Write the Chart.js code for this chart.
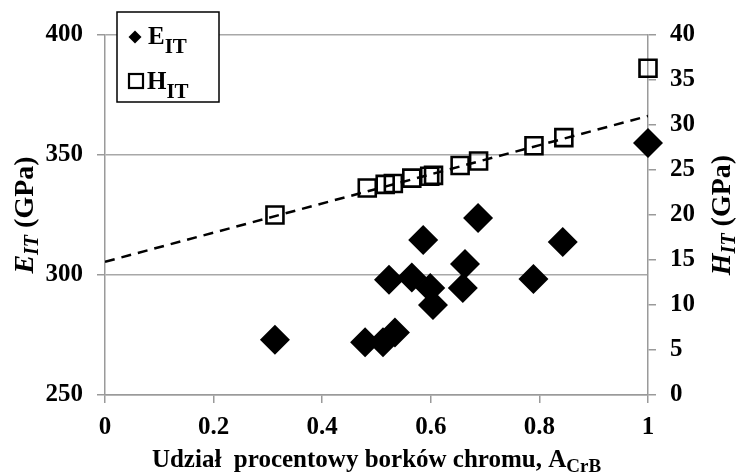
<!DOCTYPE html>
<html>
<head>
<meta charset="utf-8">
<script src="https://cdn.jsdelivr.net/npm/chart.js@4/dist/chart.umd.min.js"></script>
<style>
  html, body { margin: 0; padding: 0; background: #fff; }
  #wrap { width: 737px; height: 475px; }
</style>
</head>
<body>
<div id="wrap"><canvas id="chart"></canvas></div>
<script>
'use strict';

/* ── Data ─────────────────────────────────────────────────────────────────── */
// Young's modulus E_IT vs chromium boride share
const eShare   = [0.313, 0.479, 0.512, 0.534, 0.523, 0.565, 0.586, 0.599, 0.604, 0.659, 0.663, 0.687, 0.789, 0.843, 1.0];
const eModulus = [273, 272, 272, 276, 298, 299, 314.6, 294.6, 287.5, 294.6, 304.6, 323.8, 298.3, 313.7, 355];

// Hardness H_IT vs chromium boride share
const hShare    = [0.313, 0.483, 0.516, 0.531, 0.565, 0.598, 0.605, 0.654, 0.688, 0.79, 0.845, 1.0];
const hHardness = [20.0, 23.0, 23.4, 23.5, 24.1, 24.3, 24.4, 25.5, 26.0, 27.7, 28.6, 36.3];

// Linear trend of H_IT (endpoints at share 0 and 1)
const trendShare = [0, 1];
const trendH     = [14.8, 31.0];

const xTicks = [0, 0.2, 0.4, 0.6, 0.8, 1];

const pts = (xs, ys) => xs.map((x, i) => ({ x, y: ys[i] }));

/* ── Text with subscripts, drawn on the canvas ───────────────────────────── */
const SERIF = '"Liberation Serif", "Times New Roman", serif';

// parts: [{t, size, italic, sub}]
function runWidth(ctx, parts) {
  let w = 0;
  for (const p of parts) {
    ctx.font = `${p.italic ? 'italic ' : ''}bold ${p.size}px ${SERIF}`;
    w += ctx.measureText(p.t).width;
  }
  return w;
}
function drawRun(ctx, parts, x, y) {
  for (const p of parts) {
    ctx.font = `${p.italic ? 'italic ' : ''}bold ${p.size}px ${SERIF}`;
    ctx.fillText(p.t, x, y + (p.sub || 0));
    x += ctx.measureText(p.t).width;
  }
}

const labelsPlugin = {
  id: 'labels',
  afterDraw(chart) {
    const ctx = chart.ctx;
    const area = chart.chartArea;
    ctx.save();
    ctx.fillStyle = '#000';
    ctx.textBaseline = 'alphabetic';
    ctx.textAlign = 'left';

    // x-axis title
    const xt = [
      { t: 'Udział  procentowy borków chromu, A', size: 25 },
      { t: 'CrB', size: 19, sub: 5 },
    ];
    drawRun(ctx, xt, (area.left + area.right) / 2 - runWidth(ctx, xt) / 2, 467);

    // vertical titles
    const vTitle = (letter, cx) => {
      const parts = [
        { t: letter, size: 28, italic: true },
        { t: 'IT', size: 20, italic: true, sub: 5 },
        { t: ' (GPa)', size: 28 },
      ];
      ctx.save();
      ctx.translate(cx, 215);
      ctx.rotate(-Math.PI / 2);
      drawRun(ctx, parts, -runWidth(ctx, parts) / 2, 9);
      ctx.restore();
    };
    vTitle('E', 24);
    vTitle('H', 721);

    // legend box
    ctx.fillStyle = '#fff';
    ctx.fillRect(117, 12, 102, 90);
    ctx.strokeStyle = '#000';
    ctx.lineWidth = 1.5;
    ctx.strokeRect(117, 12, 102, 90);

    ctx.fillStyle = '#000';
    ctx.beginPath();
    ctx.moveTo(128.5, 37); ctx.lineTo(135, 30.5); ctx.lineTo(141.5, 37); ctx.lineTo(135, 43.5);
    ctx.closePath();
    ctx.fill();
    drawRun(ctx, [{ t: 'E', size: 25 }, { t: 'IT', size: 21, sub: 9 }], 148, 44);

    ctx.lineWidth = 2.2;
    ctx.strokeRect(129, 74, 14, 14);
    drawRun(ctx, [{ t: 'H', size: 25 }, { t: 'IT', size: 21, sub: 9 }], 147, 89);

    ctx.restore();
  },
};

/* ── Chart ────────────────────────────────────────────────────────────────── */
const tickFont = { family: SERIF, size: 25, weight: 'bold' };
const AXIS_GREY = '#9a9a9a';

new Chart(document.getElementById('chart'), {
  type: 'scatter',
  data: {
    datasets: [
      {
        label: 'trend',
        type: 'line',
        data: pts(trendShare, trendH),
        yAxisID: 'y2',
        borderColor: '#000',
        borderWidth: 2.5,
        borderDash: [10, 7],
        pointRadius: 0,
        fill: false,
        order: 3,
      },
      {
        label: 'H_IT',
        data: pts(hShare, hHardness),
        yAxisID: 'y2',
        pointStyle: 'rect',
        pointRadius: 12,
        pointBorderWidth: 2.6,
        borderColor: '#000',
        backgroundColor: 'rgba(255,255,255,0)',
        clip: false,
        order: 2,
      },
      {
        label: 'E_IT',
        data: pts(eShare, eModulus),
        yAxisID: 'y',
        pointStyle: 'rectRot',
        pointRadius: 15,
        pointBorderWidth: 0,
        borderColor: '#000',
        backgroundColor: '#000',
        clip: false,
        order: 1,
      },
    ],
  },
  options: {
    responsive: true,
    maintainAspectRatio: false,
    animation: false,
    layout: { padding: { top: 35, left: 0, right: 0, bottom: 0 } },
    plugins: {
      legend: { display: false },
      tooltip: { enabled: false },
    },
    scales: {
      x: {
        type: 'linear',
        min: 0, max: 1,
        afterBuildTicks: s => { s.ticks = xTicks.map(v => ({ value: v })); },
        afterFit: s => { s.height = 80; },
        grid: { drawOnChartArea: false, drawTicks: true, tickLength: 8, color: AXIS_GREY, lineWidth: 1.5 },
        border: { color: AXIS_GREY, width: 1.5 },
        ticks: { color: '#000', font: tickFont, padding: 10, maxRotation: 0, callback: v => String(v) },
      },
      y: {
        position: 'left',
        min: 250, max: 400,
        ticks: { stepSize: 50, color: '#000', font: tickFont, padding: 14 },
        afterFit: s => { s.width = 105; },
        grid: { color: '#a8a8a8', lineWidth: 1.5, tickLength: 8, tickColor: AXIS_GREY },
        border: { color: AXIS_GREY, width: 1.5 },
      },
      y2: {
        position: 'right',
        min: 0, max: 40,
        ticks: { stepSize: 5, color: '#000', font: tickFont, padding: 14 },
        afterFit: s => { s.width = 89; },
        grid: { drawOnChartArea: false, tickLength: 8, color: AXIS_GREY, lineWidth: 1.5 },
        border: { color: AXIS_GREY, width: 1.5 },
      },
    },
  },
  plugins: [labelsPlugin],
});
</script>
</body>
</html>
